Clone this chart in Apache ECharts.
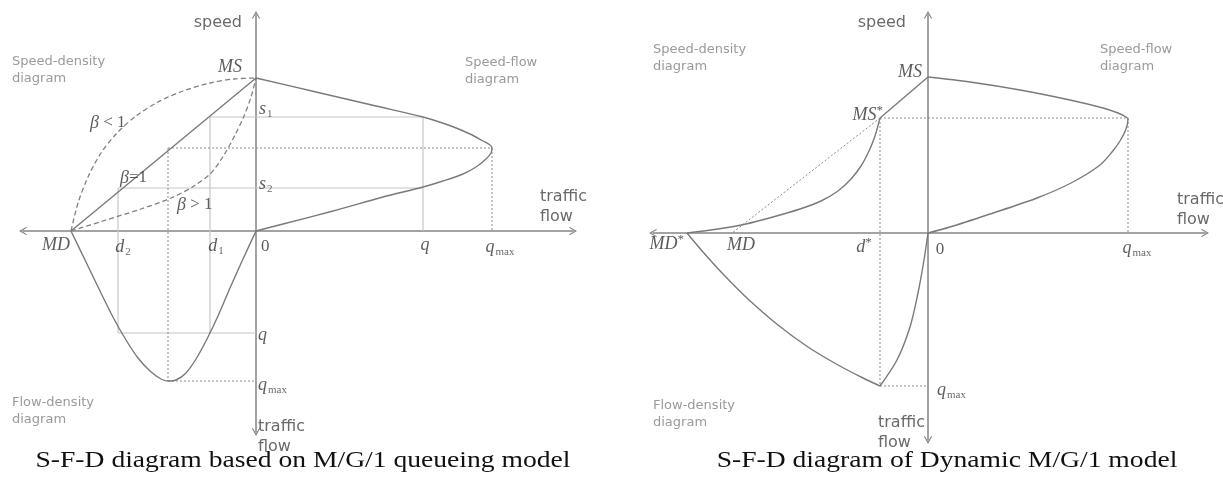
<!DOCTYPE html>
<html>
<head>
<meta charset="utf-8">
<script src="https://cdn.jsdelivr.net/npm/echarts@6/dist/echarts.min.js"></script>
<style>
html, body { margin: 0; padding: 0; background: #fff; }
#box { width: 1223px; height: 477px; }
</style>
</head>
<body>
<div id="box"></div>
<script>
// units: picture pixels measured from each panel's origin (x: density/flow, y: speed/flow)

// left panel - M/G/1 queueing model
var sdBeta1 = [[-185, 0], [0, 153]]
var sdBetaLess = [[-185, 0], [-178, 28], [-168, 54], [-155, 78], [-139, 98], [-120, 115], [-98, 129],
  [-73, 140], [-46, 148], [-22, 152], [0, 153]]
var sdBetaMore = [[-185, 0], [-150, 11], [-115, 22], [-85, 33], [-62, 45], [-45, 58], [-32, 76],
  [-21, 96], [-12, 115], [-5, 134], [0, 153]]
var sfLeft = [[0, 153], [60, 139], [120, 125], [167, 114], [195, 105], [214, 97], [227, 90], [234, 86], [236, 83],
  [235, 78], [230, 72], [220, 64], [207, 57], [187, 50], [167, 44], [127, 34], [77, 20], [27, 7], [0, 0]]
var fdLeft = [[-185, 0], [-170, -31], [-155, -62], [-142, -88], [-130, -109], [-118, -127], [-106, -140],
  [-95, -148], [-88, -150], [-80, -149], [-70, -142], [-60, -128], [-49, -108], [-38, -85], [-26, -57],
  [-13, -28], [0, 0]]
var helpLeft = [
  [[-46, 114], [167, 114]], // s1
  [[-138, 43], [167, 43]], // s2
  [[-46, 114], [-46, -102]], // d1
  [[-138, 43], [-138, -102]], // d2
  [[-138, -102], [0, -102]], // q
  [[167, 114], [167, 0]] // q on flow axis
]
var dotLeft = [
  [[-88, 83], [236, 83]],
  [[-88, 83], [-88, -150]],
  [[-88, -150], [0, -150]],
  [[236, 83], [236, 0]]
]

// right panel - dynamic M/G/1 model
var sdTopRight = [[-48, 115], [0, 156]]
var sdRight = [[-48, 115], [-53, 97], [-59, 82], [-67, 67], [-77, 54], [-90, 42], [-107, 32], [-128, 24],
  [-155, 16], [-182, 9], [-210, 4], [-241, 0]]
var sfRight = [[0, 156], [42, 151], [92, 143], [142, 133], [175, 125], [190, 120], [198, 116], [200, 114],
  [198, 104], [192, 92], [184, 81], [172, 68], [145, 51], [109, 35], [59, 18], [22, 6], [0, 0]]
var fdRightLeft = [[-241, 0], [-225, -19], [-205, -41], [-180, -66], [-150, -92], [-120, -114], [-90, -132],
  [-65, -145], [-48, -153]]
var fdRightRight = [[-48, -153], [-31, -127], [-18, -94], [-10, -60], [-4, -27], [0, 0]]
var dotRight = [
  [[-48, 115], [-196, 0]], // MS* to MD
  [[-48, 115], [-48, -153]],
  [[-48, 115], [200, 115]],
  [[200, 115], [200, 0]],
  [[-48, -153], [0, -153]]
]

var SERIF = '"Liberation Serif", "DejaVu Serif", serif'
var SANS = '"DejaVu Sans", sans-serif'

// [x, y, text, align]
var labelsLeft = [
  [-14, 208, '{s|speed}', 'right'],
  [-14, 164, '{m|MS}', 'right'],
  [3, 122, '{m|s}{b|1}', 'left'],
  [3, 47, '{m|s}{b|2}', 'left'],
  [-166, 108, '{m|β}{u| < 1}', 'left'],
  [-136, 53, '{m|β}{u|=1}', 'left'],
  [-79, 26, '{m|β}{u| > 1}', 'left'],
  [284, 24, '{s|traffic}\n{s|flow}', 'left'],
  [5, -16, '{u|0}', 'left'],
  [169, -14, '{m|q}', 'center'],
  [244, -16, '{m|q}{b|max}', 'center'],
  [-186, -14, '{m|MD}', 'right'],
  [-133, -16, '{m|d}{b|2}', 'center'],
  [-40, -15, '{m|d}{b|1}', 'center'],
  [2, -104, '{m|q}', 'left'],
  [2, -154, '{m|q}{b|max}', 'left'],
  [2, -206, '{s|traffic}\n{s|flow}', 'left']
]
var labelsRight = [
  [-22, 210, '{s|speed}', 'right'],
  [-6, 161, '{m|MS}', 'right'],
  [-45, 118, '{m|MS}{p|*}', 'right'],
  [-244, -11, '{m|MD}{p|*}', 'right'],
  [-187, -12, '{m|MD}', 'center'],
  [-64, -14, '{m|d}{p|*}', 'center'],
  [12, -17, '{u|0}', 'center'],
  [209, -15, '{m|q}{b|max}', 'center'],
  [249, 23, '{s|traffic}\n{s|flow}', 'left'],
  [9, -157, '{m|q}{b|max}', 'left'],
  [-50, -200, '{s|traffic}\n{s|flow}', 'left']
]

var rich = {
  m: { fontFamily: SERIF, fontStyle: 'italic', fontSize: 18, color: '#333' },
  u: { fontFamily: SERIF, fontSize: 17, color: '#333' },
  b: { fontFamily: SERIF, fontSize: 11, color: '#444', padding: [10, 0, 0, 1] },
  p: { fontFamily: SERIF, fontSize: 13, color: '#333', padding: [0, 0, 9, 0] },
  s: { fontFamily: SANS, fontSize: 16, color: '#444', lineHeight: 20 }
}

var ARROW = 'path://M5 0L10 9L9 10L5 3L1 10L0 9Z'

function axisPair(min, max, idx) {
  return {
    type: 'value',
    axisLine: {
      show: true,
      onZero: true,
      symbol: [ARROW, ARROW],
      symbolSize: [8, 9],
      lineStyle: { color: '#858585', width: 1.5 }
    },
    axisTick: { show: false },
    axisLabel: { show: false },
    splitLine: { show: false },
    min: min,
    max: max,
    gridIndex: idx
  }
}

function line(data, gi, color, width, type, smooth, z) {
  return {
    type: 'line',
    xAxisIndex: gi,
    yAxisIndex: gi,
    data: data,
    showSymbol: false,
    symbol: 'none',
    smooth: smooth ? 0.3 : false,
    silent: true,
    z: z || 2,
    lineStyle: { color: color, width: width, type: type || 'solid' }
  }
}

function labels(list, gi) {
  return {
    type: 'scatter',
    xAxisIndex: gi,
    yAxisIndex: gi,
    symbolSize: 0,
    clip: false,
    silent: true,
    z: 5,
    data: list.map(function (l) {
      return {
        value: [l[0], l[1]],
        label: {
          show: true,
          position: [0, 0],
          align: l[3],
          verticalAlign: 'middle',
          formatter: l[2],
          rich: rich
        }
      }
    })
  }
}

var series = []
helpLeft.forEach(function (seg) { series.push(line(seg, 0, '#c6c6c6', 1.2, 'solid', false, 1)) })
dotLeft.forEach(function (seg) { series.push(line(seg, 0, '#8c8c8c', 1, [2, 2], false, 1)) })
series.push(line(sdBeta1, 0, '#7a7a7a', 1.4))
series.push(line(sdBetaLess, 0, '#808080', 1.3, [5, 3], true))
series.push(line(sdBetaMore, 0, '#808080', 1.3, [5, 3], true))
series.push(line(sfLeft, 0, '#7a7a7a', 1.4, 'solid', true))
series.push(line(fdLeft, 0, '#7a7a7a', 1.4, 'solid', true))
series.push(labels(labelsLeft, 0))

dotRight.forEach(function (seg) { series.push(line(seg, 1, '#8c8c8c', 1, [2, 2], false, 1)) })
series.push(line(sdTopRight, 1, '#7a7a7a', 1.4))
series.push(line(sdRight, 1, '#7a7a7a', 1.4, 'solid', true))
series.push(line(sfRight, 1, '#7a7a7a', 1.4, 'solid', true))
series.push(line(fdRightLeft, 1, '#7a7a7a', 1.4, 'solid', true))
series.push(line(fdRightRight, 1, '#7a7a7a', 1.4, 'solid', true))
series.push(labels(labelsRight, 1))

function note(x, y, text) {
  return {
    type: 'text', x: x, y: y, silent: true,
    style: { text: text, font: '13px ' + SANS, fill: '#9a9a9a', lineHeight: 17 }
  }
}
function caption(x, text) {
  return {
    type: 'text', x: x, y: 461, scaleX: 1.15, silent: true,
    style: { text: text, font: '24px ' + SERIF, fill: '#111', align: 'center', verticalAlign: 'middle' }
  }
}

var option = {
  animation: false,
  backgroundColor: '#fff',
  grid: [
    { left: 23, top: 15, width: 550, height: 417 },
    { left: 653, top: 15, width: 552, height: 425 }
  ],
  xAxis: [axisPair(-233, 317, 0), axisPair(-275, 277, 1)],
  yAxis: [axisPair(-201, 216, 0), axisPair(-207, 218, 1)],
  graphic: [
    note(12, 53, 'Speed-density\ndiagram'),
    note(465, 54, 'Speed-flow\ndiagram'),
    note(12, 394, 'Flow-density\ndiagram'),
    note(653, 41, 'Speed-density\ndiagram'),
    note(1100, 41, 'Speed-flow\ndiagram'),
    note(653, 397, 'Flow-density\ndiagram'),
    caption(303, 'S-F-D diagram based on M/G/1 queueing model'),
    caption(947, 'S-F-D diagram of Dynamic M/G/1 model')
  ],
  series: series
}

var chart = echarts.init(document.getElementById('box'))
chart.setOption(option)
</script>
</body>
</html>
